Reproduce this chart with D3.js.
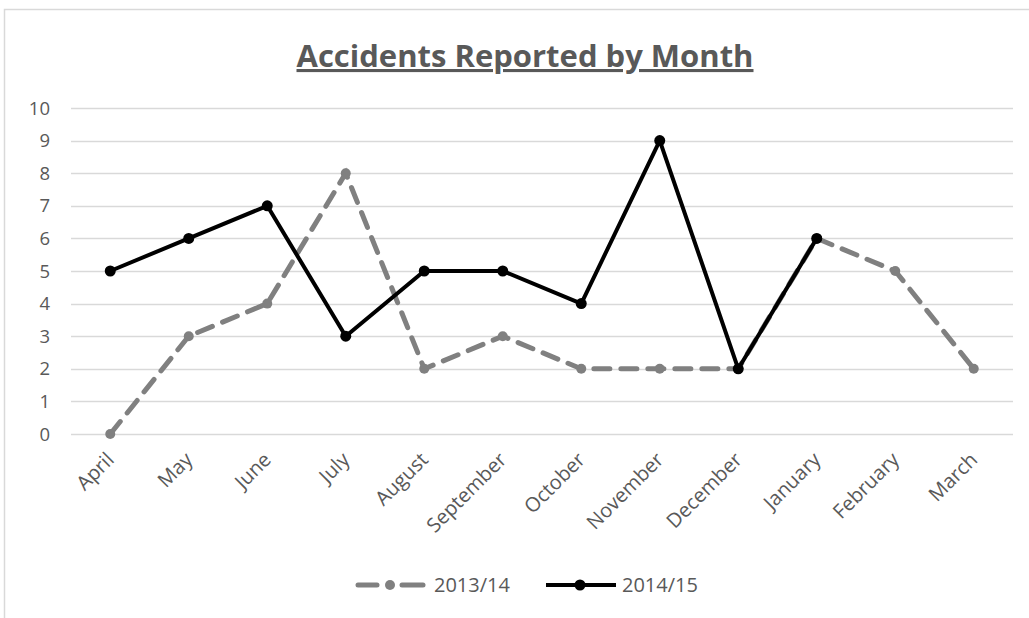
<!DOCTYPE html>
<html>
<head>
<meta charset="utf-8">
<script src="https://cdn.jsdelivr.net/npm/d3@7"></script>
<style>
  body { margin: 0; background: #fff; }
  text { font-family: "Open Sans", "Liberation Sans", sans-serif; }
</style>
</head>
<body>
<div id="chart"></div>
<script>
var months = ["April", "May", "June", "July", "August", "September", "October",
  "November", "December", "January", "February", "March"];
var series1314 = [0, 3, 4, 8, 2, 3, 2, 2, 2, 6, 5, 2];
var series1415 = [5, 6, 7, 3, 5, 5, 4, 9, 2, 6];
var yTicks = [0, 1, 2, 3, 4, 5, 6, 7, 8, 9, 10];

var width = 1029, height = 618;
var svg = d3.select('#chart').append('svg').attr('width', width).attr('height', height);

// outer chart border
svg.append('rect')
  .attr('x', 4.5).attr('y', 9.5)
  .attr('width', 1040).attr('height', 640)
  .attr('fill', 'none').attr('stroke', '#d9d9d9').attr('stroke-width', 1.5);

var x = d3.scaleBand().domain(months).range([71, 1013]);
var y = d3.scaleLinear().domain([0, 10]).range([434, 108]);
function cx(d) { return x(d) + x.bandwidth() / 2; }

// title
svg.append('text')
  .attr('x', 525).attr('y', 67)
  .attr('text-anchor', 'middle')
  .attr('font-size', 31).attr('font-weight', 'bold')
  .attr('fill', '#595959')
  .attr('text-decoration', 'underline')
  .text('Accidents Reported by Month');

// gridlines
svg.append('g').selectAll('line')
  .data(yTicks)
  .enter().append('line')
  .attr('x1', 71).attr('x2', 1013)
  .attr('y1', function(d) { return Math.round(y(d)) + 0.5; })
  .attr('y2', function(d) { return Math.round(y(d)) + 0.5; })
  .attr('stroke', '#d9d9d9').attr('stroke-width', 1.5);

// y labels
svg.append('g').selectAll('text')
  .data(yTicks)
  .enter().append('text')
  .attr('x', 50).attr('y', function(d) { return y(d) + 6.5; })
  .attr('text-anchor', 'end')
  .attr('font-size', 18.5).attr('fill', '#595959')
  .text(function(d) { return d; });

// x labels
svg.append('g').selectAll('text')
  .data(months)
  .enter().append('text')
  .attr('text-anchor', 'end')
  .attr('font-size', 20).attr('fill', '#595959')
  .attr('transform', function(d) { return 'translate(' + (cx(d) + 5) + ',461) rotate(-45)'; })
  .text(function(d) { return d; });

var line = d3.line()
  .x(function(d, i) { return cx(months[i]); })
  .y(function(d) { return y(d); });

// 2013/14
svg.append('path')
  .datum(series1314)
  .attr('d', line)
  .attr('fill', 'none').attr('stroke', '#808080')
  .attr('stroke-width', 5).attr('stroke-dasharray', '16,11')
  .attr('stroke-linecap', 'round');
svg.append('g').selectAll('circle')
  .data(series1314)
  .enter().append('circle')
  .attr('cx', function(d, i) { return cx(months[i]); })
  .attr('cy', function(d) { return y(d); })
  .attr('r', 5).attr('fill', '#808080');

// 2014/15
svg.append('path')
  .datum(series1415)
  .attr('d', line)
  .attr('fill', 'none').attr('stroke', '#000')
  .attr('stroke-width', 4).attr('stroke-linejoin', 'round');
svg.append('g').selectAll('circle')
  .data(series1415)
  .enter().append('circle')
  .attr('cx', function(d, i) { return cx(months[i]); })
  .attr('cy', function(d) { return y(d); })
  .attr('r', 5.5).attr('fill', '#000');

// legend
var legend = svg.append('g');
legend.append('line')
  .attr('x1', 358).attr('x2', 377).attr('y1', 585).attr('y2', 585)
  .attr('stroke', '#808080').attr('stroke-width', 5).attr('stroke-linecap', 'round');
legend.append('line')
  .attr('x1', 402).attr('x2', 423).attr('y1', 585).attr('y2', 585)
  .attr('stroke', '#808080').attr('stroke-width', 5).attr('stroke-linecap', 'round');
legend.append('circle').attr('cx', 390).attr('cy', 585).attr('r', 5).attr('fill', '#808080');
legend.append('text').attr('x', 434).attr('y', 592)
  .attr('font-size', 20).attr('fill', '#595959').text('2013/14');

legend.append('line')
  .attr('x1', 546).attr('x2', 616).attr('y1', 585).attr('y2', 585)
  .attr('stroke', '#000').attr('stroke-width', 4);
legend.append('circle').attr('cx', 580).attr('cy', 585).attr('r', 5.5).attr('fill', '#000');
legend.append('text').attr('x', 622).attr('y', 592)
  .attr('font-size', 20).attr('fill', '#595959').text('2014/15');
</script>
</body>
</html>
